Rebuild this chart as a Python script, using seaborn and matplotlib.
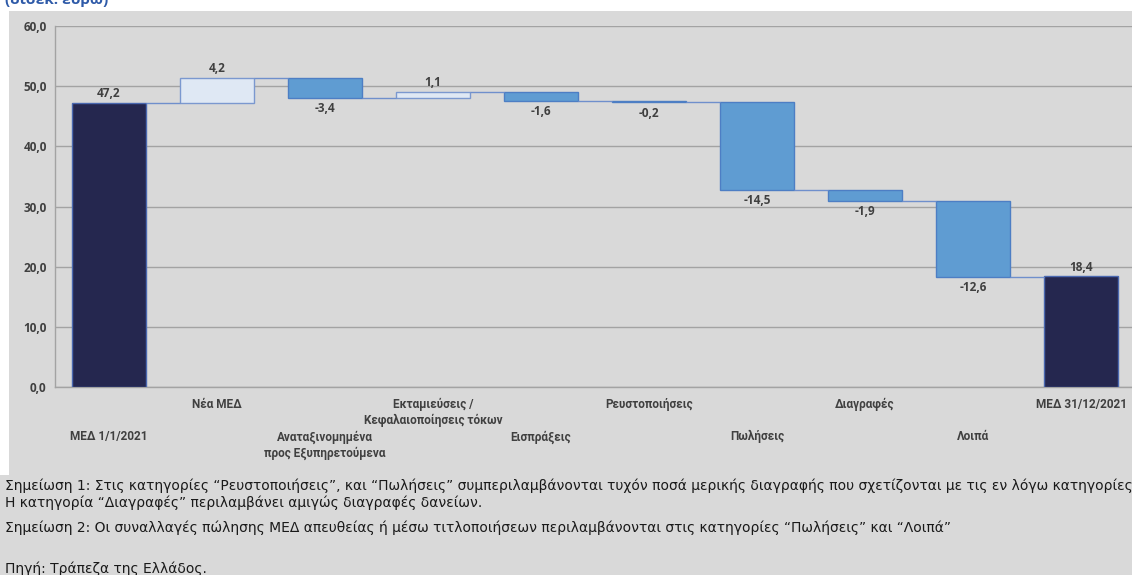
import pandas as pd
import matplotlib
matplotlib.use("Agg")
import matplotlib.pyplot as plt
from matplotlib.patches import Rectangle
import seaborn as sns

categories = [
    "ΜΕΔ 1/1/2021",
    "Νέα ΜΕΔ",
    "Αναταξινομημένα\nπρος Εξυπηρετούμενα",
    "Εκταμιεύσεις /\nΚεφαλαιοποίησεις τόκων",
    "Εισπράξεις",
    "Ρευστοποιήσεις",
    "Πωλήσεις",
    "Διαγραφές",
    "Λοιπά",
    "ΜΕΔ 31/12/2021",
]
changes = [47.2, 4.2, -3.4, 1.1, -1.6, -0.2, -14.5, -1.9, -12.6, 18.4]
kinds = ["total", "up", "down", "up", "down", "down", "down", "down", "down", "total"]
y_ticks = [0, 10, 20, 30, 40, 50, 60]

notes = [
    "Σημείωση 1: Στις κατηγορίες “Ρευστοποιήσεις”, και “Πωλήσεις” συμπεριλαμβάνονται τυχόν ποσά μερικής διαγραφής που σχετίζονται με τις εν λόγω κατηγορίες.",
    "Η κατηγορία “Διαγραφές” περιλαμβάνει αμιγώς διαγραφές δανείων.",
    "Σημείωση 2: Οι συναλλαγές πώλησης ΜΕΔ απευθείας ή μέσω τιτλοποιήσεων περιλαμβάνονται στις κατηγορίες “Πωλήσεις” και “Λοιπά”",
    "Πηγή: Τράπεζα της Ελλάδος.",
]

face = {"total": "#25274f", "up": "#dfe8f4", "down": "#5f9cd2"}
edge = {"total": "#4a68b0", "up": "#7b98cf", "down": "#4d7ec4"}
bg = "#d9d9d9"
txt = "#404040"

# waterfall bases
bases, levels = [], []
run = 0.0
for v, k in zip(changes, kinds):
    if k == "total":
        bases.append(0.0)
        run = v
    else:
        bases.append(run + min(v, 0))
        run = run + v
    levels.append(run)

df = pd.DataFrame({"cat": categories, "height": [abs(v) for v in changes],
                   "base": bases, "kind": kinds, "value": changes})

sns.set_theme(style="white")
lab_font = ["Open Sans", "DejaVu Sans"]
cat_font = ["Roboto", "DejaVu Sans"]

fig = plt.figure(figsize=(11.32, 5.75), dpi=100, facecolor=bg)
fig.patches.append(Rectangle((0, 0.9809), 1, 0.03, transform=fig.transFigure,
                             facecolor="white", edgecolor="none", zorder=-1))
fig.patches.append(Rectangle((0, 0.174), 9 / 1132, 0.83, transform=fig.transFigure,
                             facecolor="white", edgecolor="none", zorder=-1))
fig.text(0.004, 1 - 4 / 575, "(δισεκ. ευρώ)", color="#2e5aa8", fontsize=11,
         fontweight="bold", family=lab_font, va="baseline")

ax = fig.add_axes([55 / 1132, 188 / 575, 1080 / 1132, 361 / 575])
ax.set_facecolor(bg)

sns.barplot(data=df, x="cat", y="height", bottom=df["base"].values,
            color=face["down"], width=0.68, ax=ax, zorder=3)
for p, k in zip(ax.patches, kinds):
    p.set_facecolor(face[k])
    p.set_edgecolor(edge[k])
    p.set_linewidth(1.0)

# connectors
for i in range(len(categories) - 1):
    ax.hlines(levels[i], i + 0.34, i + 1 - 0.34, color="#6f8fcc", lw=1.0, zorder=4)

# value labels
for i, (v, k) in enumerate(zip(changes, kinds)):
    s = f"{v:.1f}".replace(".", ",")
    if v >= 0:
        ax.annotate(s, (i, df["base"][i] + df["height"][i]), xytext=(0, 2),
                    textcoords="offset points", ha="center", va="bottom",
                    fontsize=8.5, fontweight="bold", color=txt, family=lab_font)
    else:
        ax.annotate(s, (i, df["base"][i]), xytext=(0, -3),
                    textcoords="offset points", ha="center", va="top",
                    fontsize=8.5, fontweight="bold", color=txt, family=lab_font)

ax.set_ylim(0, 60)
ax.set_xlim(-0.5, len(categories) - 0.5)
ax.set_yticks(y_ticks)
ax.set_yticklabels([f"{t:.1f}".replace(".", ",") for t in y_ticks],
                   fontsize=8.5, fontweight="bold", color=txt, family=lab_font)
ax.yaxis.grid(True, color="#a3a3a3", lw=1.0)
ax.set_axisbelow(True)

tick_labels = [c if i % 2 == 1 else "\n\n" + c for i, c in enumerate(categories)]
ax.set_xticks(range(len(categories)))
ax.set_xticklabels(tick_labels, fontsize=8.5, fontweight="bold", color=txt,
                   family=cat_font, linespacing=1.3)
ax.set_xticks([i + 0.5 for i in range(len(categories) - 1)], minor=True)
ax.tick_params(axis="x", which="major", length=0, pad=8)
ax.tick_params(axis="x", which="minor", length=4, color="#a3a3a3", direction="out")
ax.tick_params(axis="y", length=4, color="#a3a3a3", direction="out", pad=2)
ax.set_xlabel("")
ax.set_ylabel("")
for side in ["top", "right"]:
    ax.spines[side].set_visible(False)
for side in ["left", "bottom"]:
    ax.spines[side].set_color("#a3a3a3")
    ax.spines[side].set_linewidth(1.0)

note_y = [486, 503, 528, 569]
for s, y in zip(notes, note_y):
    fig.text(5 / 1132, 1 - y / 575, s, fontsize=10, color="#1a1a1a",
             family=["DejaVu Sans"], va="center", ha="left")

fig.savefig("out.png", dpi=100, facecolor=bg)
